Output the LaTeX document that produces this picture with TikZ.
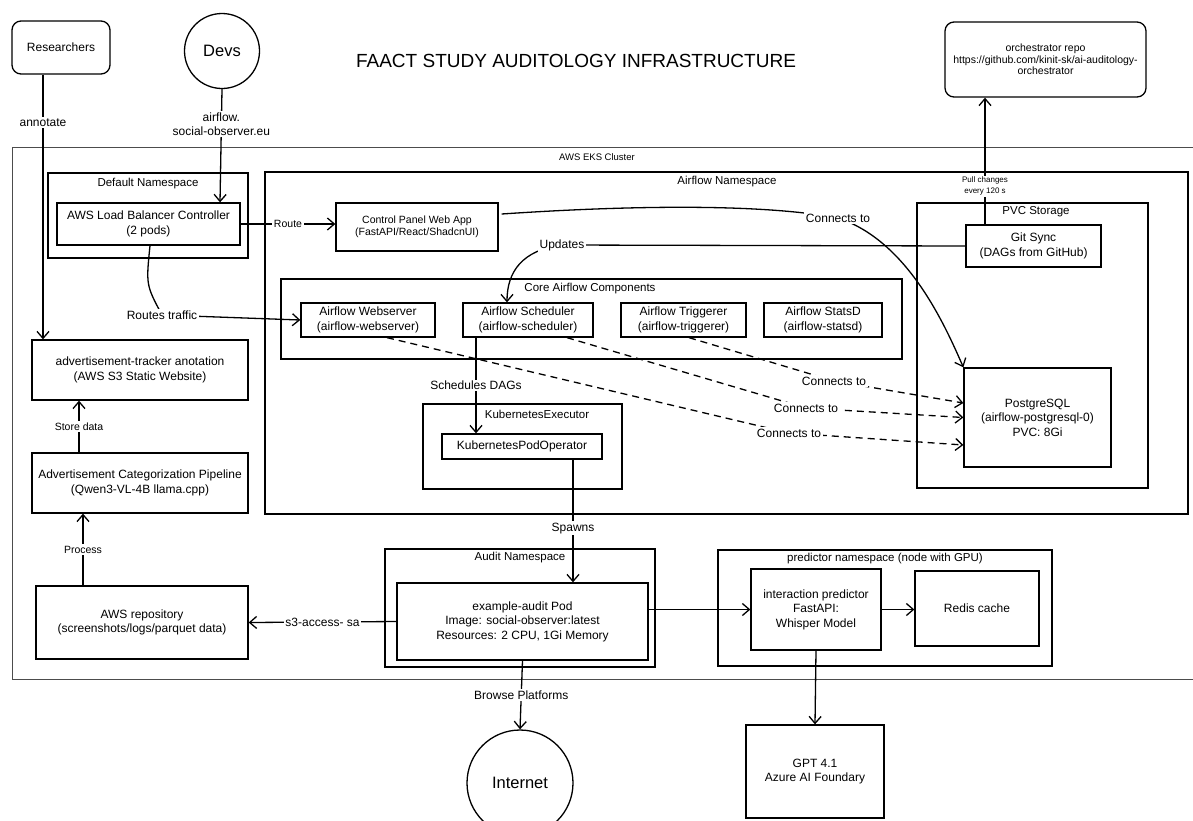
\documentclass[tikz,border=0pt]{standalone}
\usepackage{fontspec}
\setmainfont{Liberation Sans}
\usetikzlibrary{arrows.meta,calc}

\newcommand{\boxfnt}{\fontsize{12}{14.5}\selectfont}
\newcommand{\framefnt}{\fontsize{11.5}{14}\selectfont}
\newcommand{\notefnt}{\fontsize{10.5}{11.5}\selectfont}
\newcommand{\pullfnt}{\fontsize{8}{11}\selectfont}
\newcommand{\bigfnt}{\fontsize{16.5}{19}\selectfont}
\newcommand{\titlefnt}{\fontsize{19}{23}\selectfont}

\begin{document}
\begin{tikzpicture}[>={Straight Barb[length=7pt,width=12pt]}, x=1pt, y=-1pt,
  box/.style={draw, line width=1.3pt, align=center, inner sep=2pt, font=\boxfnt},
  rbox/.style={box, rounded corners=9pt},
  nsframe/.style={draw, line width=1.3pt, inner sep=0pt},
  framelbl/.style={font=\framefnt, inner sep=1pt},
  conn/.style={->, line width=1.3pt},
  dconn/.style={conn, dash pattern=on 7pt off 5pt},
  lbl/.style={fill=white, inner sep=1.5pt, font=\boxfnt, align=center},
  note/.style={lbl, font=\notefnt}]

        \fill[white] (0,0) rectangle (1193,820);
        \useasboundingbox (0,0) rectangle (1193,820);

        % outside the cluster
        \node[rbox, minimum width=98, minimum height=53] (researchers) at (61,47.5) {Researchers};
        \node[box, circle, minimum size=75, font=\bigfnt] (devs) at (222,51) {Devs};
        \node[font=\titlefnt] (title) at (576,61) {FAACT STUDY AUDITOLOGY INFRASTRUCTURE};
        \node[rbox, minimum width=201, minimum height=75, font=\notefnt] (repo) at (1045.5,59.5) {orchestrator repo\\https://github.com/kinit-sk/ai-auditology-\\orchestrator};

        % cluster and namespaces
        \node[nsframe, draw=black!70, line width=0.9pt, minimum width=1184, minimum height=532] (eks) at (604,413) {};
        \node[framelbl, font=\fontsize{9.5}{11}\selectfont] (eks-lbl) at (597,157) {AWS EKS Cluster};
        \node[nsframe, minimum width=200, minimum height=85] (defns) at (148,215.5) {};
        \node[framelbl] (defns-lbl) at (148,184) {Default Namespace};
        \node[nsframe, minimum width=923, minimum height=342] (afns) at (726.5,343) {};
        \node[framelbl] (afns-lbl) at (727,182) {Airflow Namespace};
        \node[nsframe, minimum width=231, minimum height=285] (pvc) at (1032.5,345.5) {};
        \node[framelbl] (pvc-lbl) at (1036,212) {PVC Storage};
        \node[nsframe, minimum width=621, minimum height=80] (core) at (591.5,319) {};
        \node[framelbl] (core-lbl) at (590,289) {Core Airflow Components};
        \node[nsframe, minimum width=199, minimum height=85] (kexec) at (522.5,446.5) {};
        \node[framelbl] (kexec-lbl) at (537,414) {KubernetesExecutor};
        \node[nsframe, minimum width=270, minimum height=118] (auditns) at (520,608) {};
        \node[framelbl] (auditns-lbl) at (520,558) {Audit Namespace};
        \node[nsframe, minimum width=334, minimum height=116] (predns) at (885,608) {};
        \node[framelbl] (predns-lbl) at (885,559) {predictor namespace (node with GPU)};

        % components
        \node[box, minimum width=183, minimum height=42] (lbc) at (148.5,224) {AWS Load Balancer Controller\\(2 pods)};
        \node[box, minimum width=162, minimum height=48, font=\notefnt] (ctrl) at (417,227) {Control Panel Web App\\(FastAPI/React/ShadcnUI)};
        \node[box, minimum width=135, minimum height=42] (gitsync) at (1033.5,246) {Git Sync\\(DAGs from GitHub)};
        \node[box, minimum width=147, minimum height=99] (pg) at (1037.5,417.5) {PostgreSQL\\(airflow-postgresql-0)\\PVC: 8Gi};
        \node[box, minimum width=134, minimum height=34] (ws) at (368,320) {Airflow Webserver\\(airflow-webserver)};
        \node[box, minimum width=130, minimum height=34] (sched) at (528,320) {Airflow Scheduler\\(airflow-scheduler)};
        \node[box, minimum width=125, minimum height=34] (trig) at (683.5,320) {Airflow Triggerer\\(airflow-triggerer)};
        \node[box, minimum width=118, minimum height=34] (statsd) at (823,320) {Airflow StatsD\\(airflow-statsd)};
        \node[box, minimum width=160, minimum height=25] (kpo) at (522,446.5) {KubernetesPodOperator};
        \node[box, minimum width=216, minimum height=60] (adtrack) at (140,370) {advertisement-tracker anotation\\(AWS S3 Static Website)};
        \node[box, minimum width=216, minimum height=60] (adpipe) at (140,483) {Advertisement Categorization Pipeline\\(Qwen3-VL-4B llama.cpp)};
        \node[box, minimum width=212, minimum height=73] (awsrepo) at (142,622.5) {AWS repository\\(screenshots/logs/parquet data)};
        \node[box, minimum width=251, minimum height=77] (pod) at (522.5,621.5) {example-audit Pod\\Image: social-observer:latest\\Resources: 2 CPU, 1Gi Memory};
        \node[box, minimum width=130, minimum height=81] (ipred) at (816,609.5) {interaction predictor\\FastAPI:\\Whisper Model};
        \node[box, minimum width=124, minimum height=75] (redis) at (977,608.5) {Redis cache};
        \node[box, minimum width=138, minimum height=93] (gpt) at (815,771.5) {GPT 4.1\\Azure AI Foundary};
        \node[box, circle, minimum size=106, font=\bigfnt] (internet) at (520,783) {Internet};

        % connections
        \draw[conn] ($(researchers.south)+(-18,0)$) -- node[lbl, pos=0.18] (l-annotate) {annotate} ($(adtrack.north)+(-97,0)$);
        \draw[conn] (devs.south) -- node[lbl, pos=0.31] (l-devs) {airflow.\\social-observer.eu} ($(lbc.north)+(71.5,0)$);
        \draw[conn] (lbc.east) -- node[note] (l-route) {Route} (lbc.east -| ctrl.west);
        \draw[conn] ($(lbc.south)+(1.5,0)$) .. controls (146,285) .. (162,315) node[lbl] (l-routes) {Routes traffic} -- (ws.west);
        \draw[conn] (gitsync.west) -- (562,245) node[lbl] (l-updates) {Updates} .. controls (522,250) and (507,272) .. ($(sched.north)+(-21,0)$);
        \draw[conn] ($(ctrl.east)+(3,-13)$) .. controls (650,204) and (770,205) .. (838,218) node[lbl] (l-ctrlpg) {Connects to} .. controls (905,240) and (942,318) .. (pg.north west);
        \draw[conn] ($(gitsync.north)+(-48.5,0)$) -- node[note, font=\pullfnt, pos=0.30] (l-pull) {Pull changes\\every 120 s} ($(repo.south)+(-60.5,0)$);
        \draw[conn] ($(sched.south)+(-52,0)$) -- node[lbl] (l-sched) {Schedules DAGs} ($(kpo.north)+(-46,0)$);
        \draw[conn] ($(kpo.south)+(51,0)$) -- node[lbl, pos=0.56] (l-spawns) {Spawns} ($(pod.north)+(50.5,0)$);
        \draw[conn] (pod.west) -- node[lbl] (l-s3) {s3-access- sa} (awsrepo.east);
        \draw[conn] (pod.east |- ipred.west) -- (ipred.west);
        \draw[conn] (ipred.east) -- (redis.west |- ipred.east);
        \draw[conn] (ipred.south) -- (gpt.north);
        \draw[conn] (pod.south) -- node[lbl] (l-browse) {Browse Platforms} (internet.north);
        \draw[conn] ($(awsrepo.north)+(-59,0)$) -- node[note] (l-process) {Process} ($(adpipe.south)+(-57,0)$);
        \draw[conn] ($(adpipe.north)+(-61,0)$) -- node[note] (l-store) {Store data} ($(adtrack.south)+(-61,0)$);

        % database links
        \draw[dconn] ($(ws.south)+(19,0)$) -- (789,433) node[lbl] (l-wspg) {Connects to} -- ($(pg.west)+(0,27.5)$);
        \draw[dconn] ($(sched.south)+(39,0)$) -- (806,408) node[lbl] (l-schedpg) {Connects to} -- (pg.west);
        \draw[dconn] ($(trig.south)+(5.5,0)$) -- (834,381) node[lbl] (l-trigpg) {Connects to} -- ($(pg.west)+(0,-14.5)$);

\end{tikzpicture}
\end{document}
